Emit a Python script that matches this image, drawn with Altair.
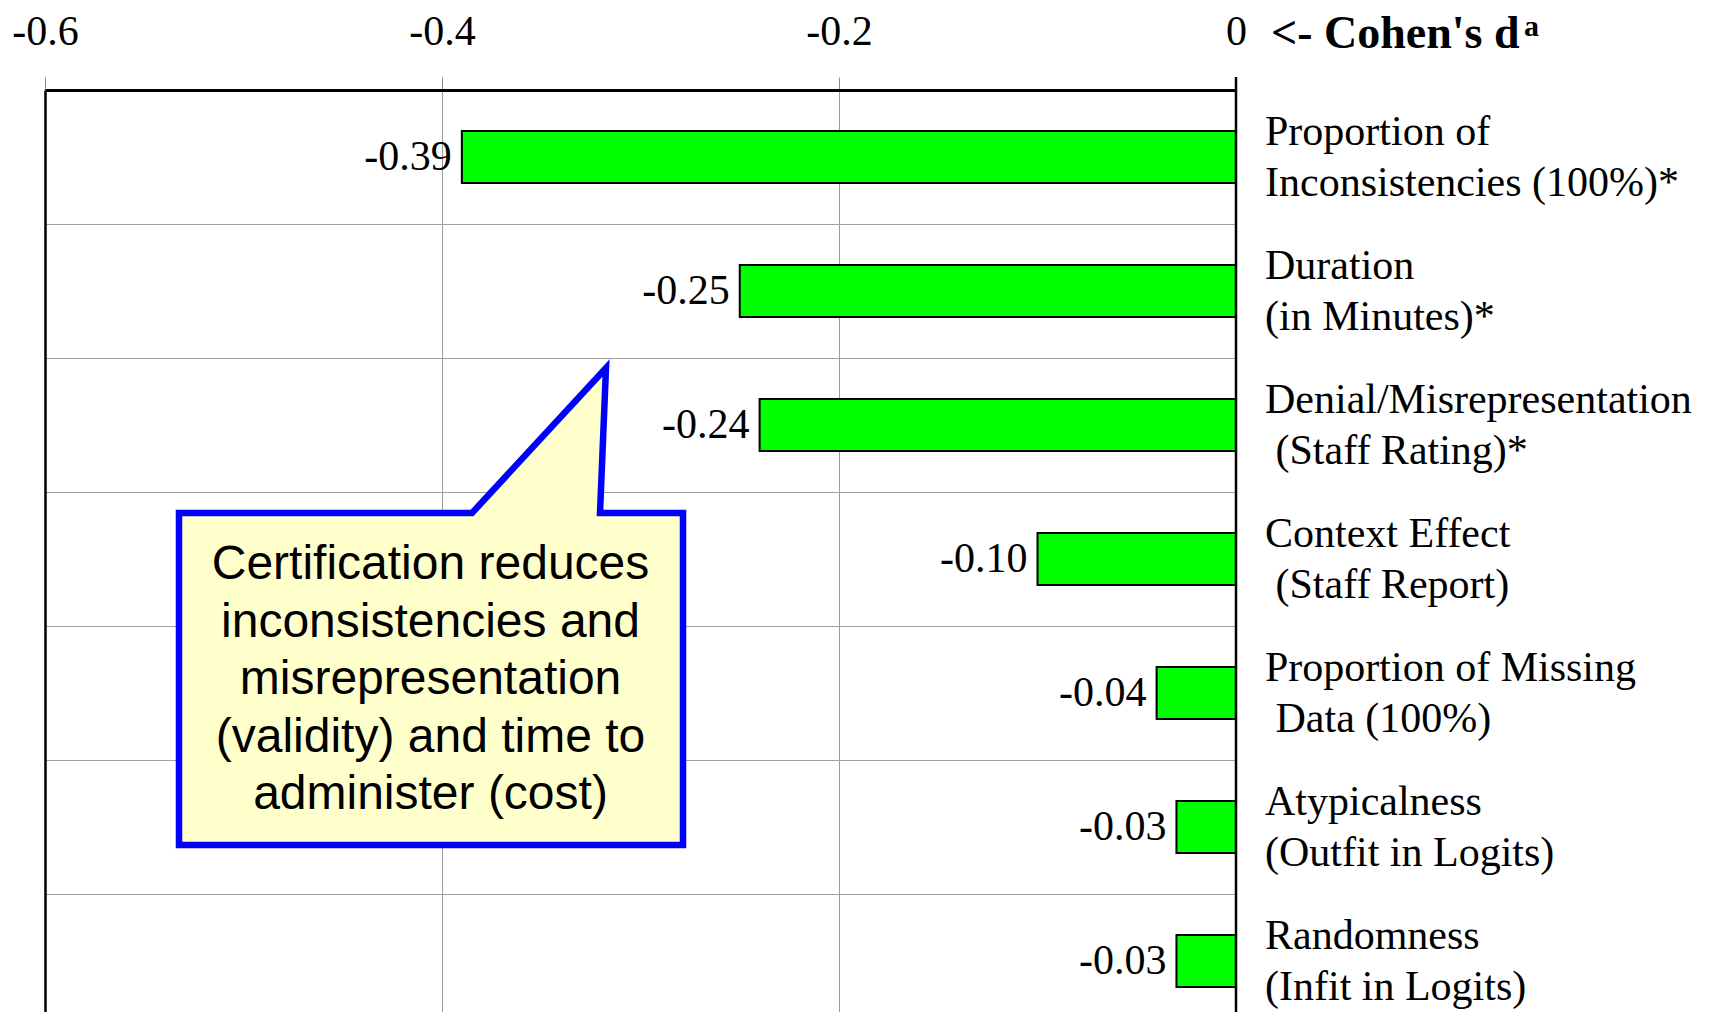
import altair as alt
import pandas as pd

# ---------------- data ----------------
ZW = "\u200b\u00a0"  # keeps the small leading indent of some label lines
categories = [
    "Proportion of\nInconsistencies (100%)*",
    "Duration\n(in Minutes)*",
    "Denial/Misrepresentation\n" + ZW + "(Staff Rating)*",
    "Context Effect\n" + ZW + "(Staff Report)",
    "Proportion of Missing\n" + ZW + "Data (100%)",
    "Atypicalness\n(Outfit in Logits)",
    "Randomness\n(Infit in Logits)",
]
values = [-0.39, -0.25, -0.24, -0.10, -0.04, -0.03, -0.03]
x_ticks = [-0.6, -0.4, -0.2, 0.0]
axis_title = "<- Cohen's d"
axis_title_sup = "a"
callout_lines = [
    "Certification reduces",
    "inconsistencies and",
    "misrepresentation",
    "(validity) and time to",
    "administer (cost)",
]

df = pd.DataFrame({"measure": categories, "d": values})
title_df = pd.DataFrame({"t": [axis_title]})
sup_df = pd.DataFrame({"t": [axis_title_sup]})
note_df = pd.DataFrame({"note": ["\n".join(callout_lines)]})

SERIF = "Liberation Serif"
SANS = "Liberation Sans"
W, H = 1191, 922

x_enc = alt.X(
    "d:Q",
    scale=alt.Scale(domain=[-0.6, 0], nice=False),
    axis=alt.Axis(
        orient="top", values=x_ticks, title=None,
        labelExpr="datum.value == 0 ? '0' : replace(format(datum.value, '.1f'), '\u2212', '-')",
        labelFont=SERIF, labelFontSize=42, labelColor="black",
        labelPadding=33, labelBaseline="alphabetic", labelFlush=False, labelOverlap=False,
        tickSize=13, tickColor="#888888", tickWidth=1,
        domain=True, domainColor="black", domainWidth=3,
        grid=True, gridColor="#9a9a9a", gridWidth=1,
    ),
)
y_enc = alt.Y(
    "measure:N", sort=categories,
    scale=alt.Scale(range=[0, 938], paddingInner=0, paddingOuter=0),
    axis=alt.Axis(
        orient="left", labels=False, ticks=False, title=None,
        domain=True, domainColor="black", domainWidth=2.5,
        grid=True, gridColor="#a0a0a0", gridWidth=1, bandPosition=0,
    ),
)

bars = alt.Chart(df).mark_bar(
    size=52, color="#00FF00", stroke="black", strokeWidth=2
).encode(x=x_enc, y=y_enc)

vals = alt.Chart(df).transform_calculate(
    lbl="replace(format(datum.d, '.2f'), '\u2212', '-')"
).mark_text(
    align="right", baseline="middle", dx=-10, font=SERIF, fontSize=42, color="black"
).encode(x=x_enc, y=y_enc, text="lbl:N")

cats = alt.Chart(df).mark_text(
    align="left", baseline="middle", lineBreak="\n", lineHeight=51.5, dy=-25.5,
    font=SERIF, fontSize=42, color="black"
).encode(x=alt.value(W + 29), y=y_enc, text="measure:N")

zero_line = alt.Chart(title_df).mark_rule(color="black", strokeWidth=2.5).encode(
    x=alt.value(W), y=alt.value(-13), y2=alt.value(940)
)

callout_path = (
    "M-1.008,-0.372 L0.164,-0.372 L0.7,-0.952 L0.676,-0.372 "
    "L1.008,-0.372 L1.008,0.956 L-1.008,0.956 Z"
)
box = alt.Chart(note_df).mark_point(
    shape=callout_path, size=250000, filled=True, fill="#FFFFCC",
    stroke="#0000FF", strokeWidth=6.5, opacity=1, fillOpacity=1,
    strokeOpacity=1, strokeJoin="miter"
).encode(x=alt.value(386), y=alt.value(516))

note = alt.Chart(note_df).mark_text(
    align="center", baseline="middle", lineBreak="\n", lineHeight=57.5,
    font=SANS, fontSize=48, color="black"
).encode(x=alt.value(385.5), y=alt.value(475), text="note:N")

title = alt.Chart(title_df).mark_text(
    align="left", baseline="alphabetic", font=SERIF, fontSize=46,
    fontWeight="bold", color="black"
).encode(x=alt.value(1226), y=alt.value(-42), text="t:N")

sup = alt.Chart(sup_df).mark_text(
    align="left", baseline="alphabetic", font=SERIF, fontSize=30,
    fontWeight="bold", color="black"
).encode(x=alt.value(1479), y=alt.value(-54), text="t:N")

chart = alt.layer(
    bars, vals, cats, zero_line, box, note, title, sup
).properties(
    width=W, height=H,
    padding={"left": 37, "top": 82, "right": 470, "bottom": 0},
    autosize="none",
).configure_view(stroke=None)

chart.save("out.html", embed_options={"renderer": "svg", "actions": False})
